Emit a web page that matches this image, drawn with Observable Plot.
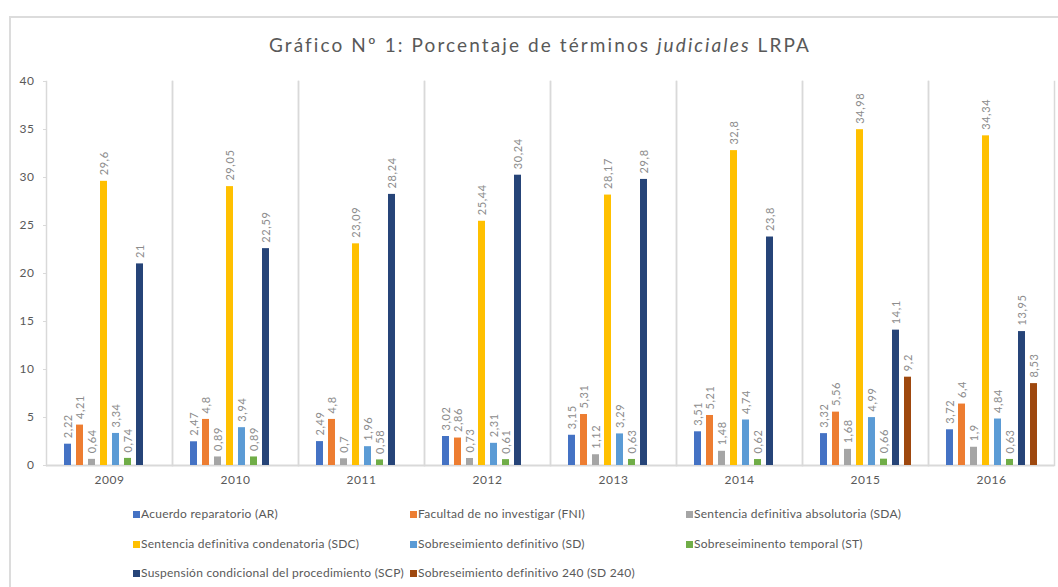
<!DOCTYPE html>
<html>
<head>
<meta charset="utf-8">
<script src="https://cdn.jsdelivr.net/npm/d3@7"></script>
<script src="https://cdn.jsdelivr.net/npm/@observablehq/plot@0.6"></script>
<style>
  html, body { margin: 0; padding: 0; background: #fff; }
  body { width: 1058px; height: 587px; position: relative; overflow: hidden; font-family: Lato, "Open Sans", sans-serif; }
  #frame { position: absolute; left: 9px; top: 16px; right: -5px; bottom: -5px; border-left: 2px solid #dcdcdc; border-top: 2px solid #dcdcdc; }
  #title { position: absolute; left: 0; width: 1080px; top: 33px; text-align: center; font-size: 19px; letter-spacing: 2.1px; color: #595959; }
  #chart { position: absolute; left: 0; top: 60px; }
  .leg { position: absolute; font-size: 12px; color: #595959; white-space: nowrap; line-height: 14px; letter-spacing: 0.25px; }
  .leg i { display: inline-block; width: 7px; height: 7px; margin-right: 1px; vertical-align: 0px; }
</style>
</head>
<body>
<div id="frame"></div>
<div id="title">Gráfico Nº 1: Porcentaje de términos <i>judiciales</i> LRPA</div>
<div id="chart"></div>
<div id="legend"></div>
<script>
const years = ["2009", "2010", "2011", "2012", "2013", "2014", "2015", "2016"];
const codes = ["AR", "FNI", "SDA", "SDC", "SD", "ST", "SCP", "SD240"];
const names = [
  "Acuerdo reparatorio (AR)",
  "Facultad de no investigar (FNI)",
  "Sentencia definitiva absolutoria (SDA)",
  "Sentencia definitiva condenatoria (SDC)",
  "Sobreseimiento definitivo (SD)",
  "Sobreseiminento temporal (ST)",
  "Suspensión condicional del procedimiento (SCP)",
  "Sobreseimiento definitivo 240 (SD 240)"
];
const colors = ["#4472C4", "#ED7D31", "#A5A5A5", "#FFC000", "#5B9BD5", "#70AD47", "#264478", "#9E480E"];

const AR    = [2.22, 2.47, 2.49, 3.02, 3.15, 3.51, 3.32, 3.72];
const FNI   = [4.21, 4.8, 4.8, 2.86, 5.31, 5.21, 5.56, 6.4];
const SDA   = [0.64, 0.89, 0.7, 0.73, 1.12, 1.48, 1.68, 1.9];
const SDC   = [29.6, 29.05, 23.09, 25.44, 28.17, 32.8, 34.98, 34.34];
const SD    = [3.34, 3.94, 1.96, 2.31, 3.29, 4.74, 4.99, 4.84];
const ST    = [0.74, 0.89, 0.58, 0.61, 0.63, 0.62, 0.66, 0.63];
const SCP   = [21, 22.59, 28.24, 30.24, 29.8, 23.8, 14.1, 13.95];
const SD240 = [null, null, null, null, null, null, 9.2, 8.53];
const yTicks = [0, 5, 10, 15, 20, 25, 30, 35, 40];

const series = [AR, FNI, SDA, SDC, SD, ST, SCP, SD240];
const rows = [];
years.forEach((year, i) => {
  codes.forEach((code, j) => {
    const v = series[j][i];
    if (v != null) rows.push({year, code, value: v});
  });
});
const fmt = v => String(v).replace(".", ",");

const chart = Plot.plot({
  width: 1058,
  height: 440,
  marginTop: 21,
  marginBottom: 35,
  marginLeft: 45,
  marginRight: 3,
  style: {fontFamily: "Lato, 'Open Sans', sans-serif", fontSize: "12px", color: "#595959", letterSpacing: "0.6px", background: "transparent"},
  fx: {domain: years, padding: 0, label: null, axis: "bottom", tickSize: 0, tickPadding: 10},
  x: {domain: codes, paddingInner: 0.45, paddingOuter: 1.15, axis: null},
  y: {domain: [0, 40], axis: null},
  color: {domain: codes, range: colors},
  marks: [
    Plot.frame({anchor: "left", stroke: "#d9d9d9", strokeWidth: 1.5}),
    Plot.frame({anchor: "right", stroke: "#d9d9d9", strokeWidth: 1.5}),
    Plot.ruleY([0], {stroke: "#d9d9d9", strokeWidth: 2}),
    Plot.axisY({ticks: yTicks, tickSize: 3, tickPadding: 9, stroke: "#d9d9d9", fill: "#595959", label: null, facetAnchor: "left", fontSize: 12}),
    Plot.barY(rows, {fx: "year", x: "code", y: "value", fill: "code"}),
    Plot.text(rows, {fx: "year", x: "code", y: "value", text: d => fmt(d.value), rotate: -90, textAnchor: "start", dy: -6, fill: "#8c8c8c", fontSize: 11})
  ]
});
document.getElementById("chart").appendChild(chart);

const legX = [133, 410, 686];
const legY = [514, 544, 573];
const legend = document.getElementById("legend");
names.forEach((n, k) => {
  const d = document.createElement("div");
  d.className = "leg";
  d.style.left = legX[k % 3] + "px";
  d.style.top = (legY[Math.floor(k / 3)] - 7) + "px";
  d.innerHTML = `<i style="background:${colors[k]}"></i>${n}`;
  legend.appendChild(d);
});
</script>
</body>
</html>
